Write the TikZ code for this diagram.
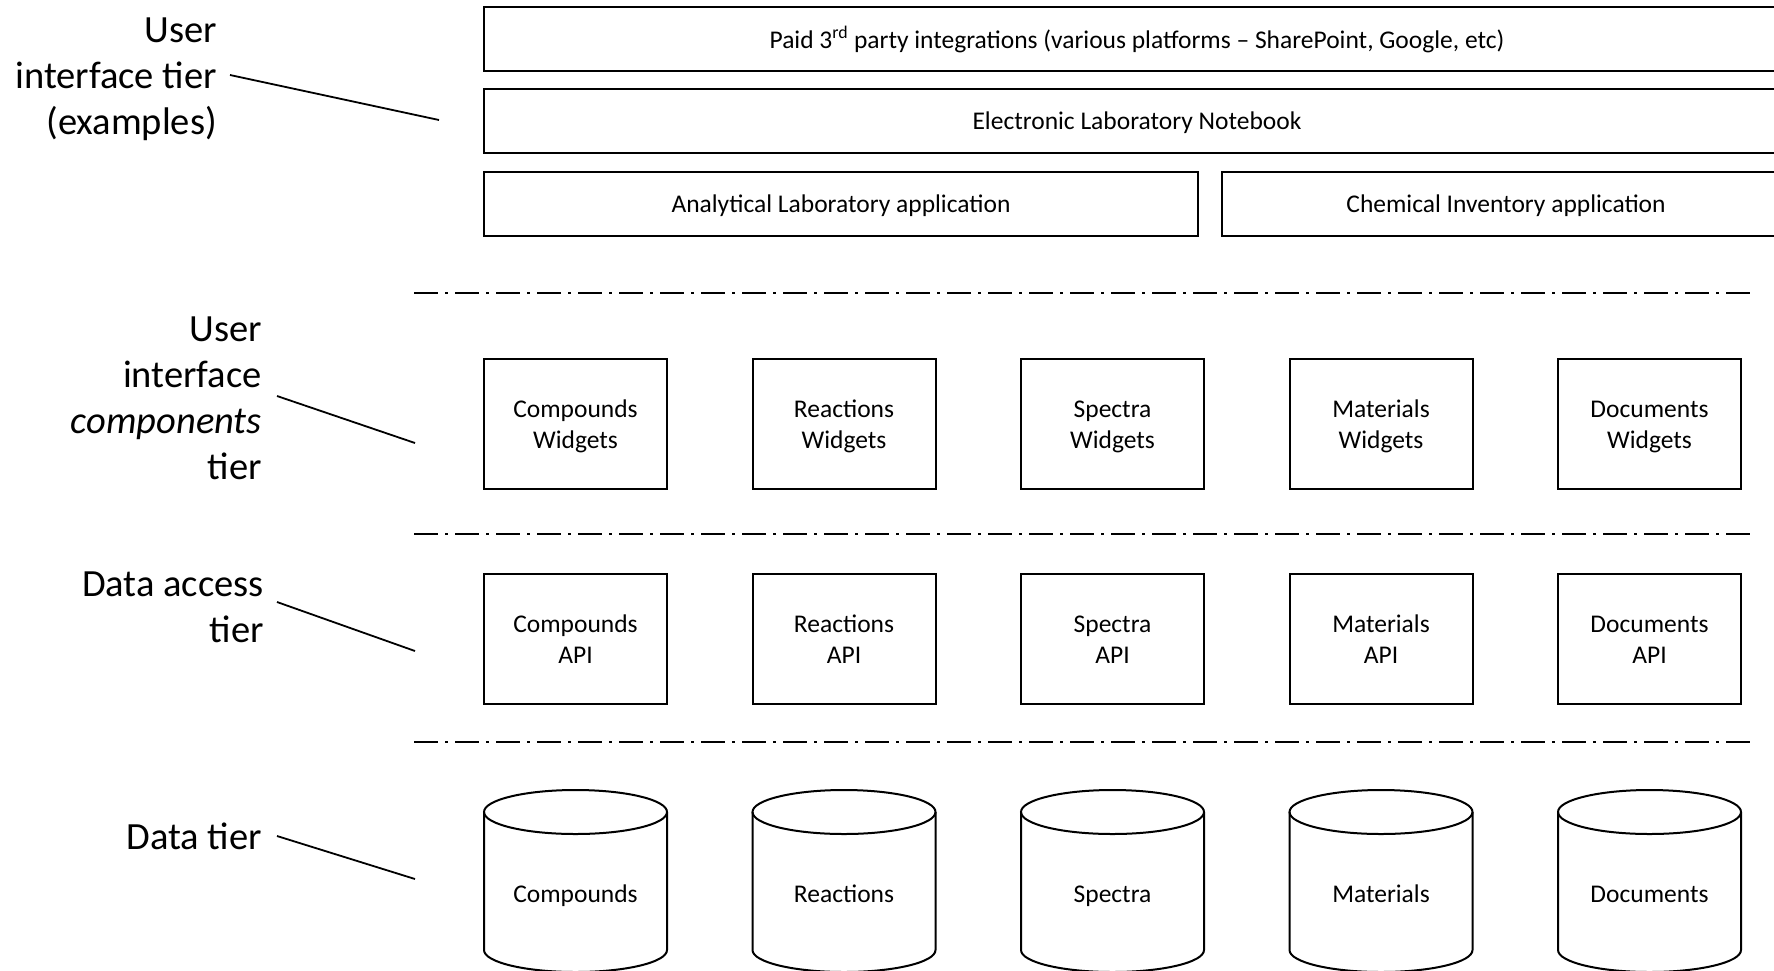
\documentclass[tikz,border=0pt]{standalone}
\usepackage{fontspec}
\setmainfont{Carlito}
\newcommand\bstrut{\rule[-6.5pt]{0pt}{31pt}}
\begin{document}
\begin{tikzpicture}[x=1pt,y=-1pt,
  boxtxt/.style={font=\fontsize{25.5}{31.5}\selectfont},
  bx/.style={boxtxt, draw, line width=2pt, minimum width=183pt, minimum height=130pt, align=center, inner sep=0pt},
  wide/.style={boxtxt, draw, line width=2pt, minimum height=64pt, inner sep=0pt},
  lbl/.style={align=right, anchor=east, font=\fontsize{38.5}{46}\selectfont, inner sep=0pt},
  lead/.style={line width=1.8pt},
  sep/.style={line width=2.2pt, dash pattern=on 24pt off 7pt on 3pt off 7pt},
  cyl/.style={line width=2pt}]
\useasboundingbox (0,0) rectangle (1774,970);
\clip (0,0) rectangle (1774,970);

% top tier boxes
\node[wide, minimum width=1306pt] (paid) at (1137,39) {\bstrut Paid 3\textsuperscript{rd} party integrations (various platforms -- SharePoint, Google, etc)};
\node[wide, minimum width=1306pt] (eln) at (1137,120.5) {\bstrut Electronic Laboratory Notebook};
\node[wide, minimum width=714pt] (anal) at (841,203.5) {\bstrut Analytical Laboratory application};
\node[wide, minimum width=568pt] (chem) at (1506,203.5) {\bstrut Chemical Inventory application};

% separators
\coordinate (s1a) at (414,293); \coordinate (s1b) at (1751,293);
\coordinate (s2a) at (414,534); \coordinate (s2b) at (1751,534);
\coordinate (s3a) at (414,742); \coordinate (s3b) at (1751,742);
\draw[sep] (s1a) -- (s1b);
\draw[sep] (s2a) -- (s2b);
\draw[sep] (s3a) -- (s3b);

% component columns
\foreach \i/\n in {0/Compounds,1/Reactions,2/Spectra,3/Materials,4/Documents} {
  \pgfmathsetmacro\cx{575.5+268.5*\i}
  \node[bx] (w\i) at (\cx,424) {\bstrut\n\\\bstrut Widgets};
  \node[bx] (a\i) at (\cx,639) {\bstrut\n\\\bstrut API};
  \draw[cyl] (\cx,812) ellipse [x radius=91.5, y radius=22];
  \draw[cyl] (\cx-91.5,812) -- (\cx-91.5,950) arc[start angle=180, end angle=0, x radius=91.5, y radius=22] -- (\cx+91.5,812);
  \node[boxtxt, inner sep=0pt] (d\i) at (\cx,893) {\bstrut\n};
}

% tier labels
\node[lbl] (t1) at (217,79) {User\\interface tier\\(examples)};
\node[lbl] (t2) at (262,398) {User\\interface\\\textit{components}\\tier};
\node[lbl] (t3) at (264,607) {Data access\\tier};
\node[lbl] (t4) at (262,836) {Data tier};

% leader lines
\coordinate (l1a) at (230,75);  \coordinate (l1b) at (439,120);
\coordinate (l2a) at (277,396); \coordinate (l2b) at (415,443);
\coordinate (l3a) at (277,602); \coordinate (l3b) at (415,651);
\coordinate (l4a) at (277,836); \coordinate (l4b) at (415,879);
\draw[lead] (l1a) -- (l1b);
\draw[lead] (l2a) -- (l2b);
\draw[lead] (l3a) -- (l3b);
\draw[lead] (l4a) -- (l4b);
\end{tikzpicture}
\end{document}
